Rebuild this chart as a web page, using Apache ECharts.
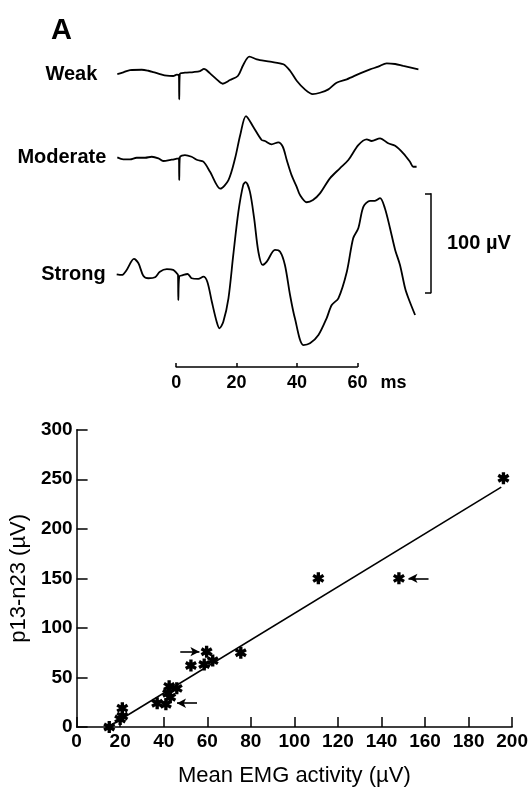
<!DOCTYPE html>
<html>
<head>
<meta charset="utf-8">
<script src="https://cdn.jsdelivr.net/npm/echarts@6/dist/echarts.min.js"></script>
<style>
html,body{margin:0;padding:0;background:#fff}
#chart{width:531px;height:788px}
</style>
</head>
<body>
<div id="chart"></div>
<script>
// ---- Panel A: averaged evoked potentials, [time (ms), deflection (µV)] ----
const weakTrace = [[-19.5,0],[-17.5,1.7],[-15.3,4.0],[-11.4,4.3],[-9.2,3.3],[-7.6,2.0],[-5.4,0],[-3.1,-1.7],[-1.0,-2.0],[0.2,-0.7],[0.9,-1],[1.0,-25.6],[1.2,0],[2.9,1.3],[5.7,2.0],[7.9,3.0],[9.2,5.1],[11.2,0.7],[13.4,-5.4],[15.4,-9.8],[17.8,-6.1],[20.4,-2.0],[22.2,9.1],[24.2,17.5],[26.7,14.8],[27.7,14.1],[31.1,12.4],[35.5,9.8],[37.7,3.3],[39.9,-6.8],[42.6,-15.5],[45.2,-20.2],[47.6,-18.9],[50.4,-15.5],[53.1,-8.8],[56.5,-5.4],[60.9,0.7],[64.2,4.7],[66.9,7.4],[69.7,10.8],[72.5,10.1],[75.2,8.1],[80.2,4.7]];
const moderateTrace = [[-19.5,1.0],[-17.5,-1.0],[-15.3,-1.0],[-13.1,0.6],[-10.3,0.6],[-8.1,1.6],[-5.9,0],[-4.3,-2.7],[-1.5,-1.4],[0.2,-0.4],[0.9,0],[1.0,-21.9],[1.2,1.0],[2.9,3.3],[5.1,1.6],[7.0,-1.7],[9.0,-3.4],[11.2,-13.5],[14.6,-30.6],[17.3,-21.9],[19.5,0],[21.2,23.5],[23.1,42.7],[25.5,31.9],[28.3,18.5],[29.4,17.5],[31.6,14.1],[33.8,16.2],[35.3,11.7],[36.6,-1.7],[38.2,-16.9],[39.9,-28.7],[41.0,-37.1],[43.2,-44.3],[45.3,-42.1],[47.6,-35.4],[50.9,-20.2],[54.2,-10.1],[57.0,-1.7],[60.3,13.4],[63.1,19.2],[64.7,17.5],[67.5,20.2],[70.2,15.2],[72.5,12.7],[75.2,5.1],[77.4,-3.4],[78.5,-8.5],[79.6,-8.5]];
const strongTrace = [[-19.7,0.7],[-18.0,0],[-16.4,5.1],[-14.0,16.2],[-12.5,11.8],[-10.9,-0.7],[-9.2,-3.3],[-7.0,-2.3],[-5.4,3.3],[-3.1,5.8],[-1.0,5.1],[0.2,1.7],[0.6,0],[0.7,-25.3],[1.0,-1.7],[2.4,0],[3.8,1.0],[5.1,-3.3],[7.3,-4.0],[9.0,-1.7],[10.3,-6.8],[11.8,-27.0],[13.4,-47.2],[14.3,-53.8],[15.6,-47.2],[17.3,-23.5],[18.9,20.2],[20.6,63.9],[22.2,90.9],[23.0,93.6],[24.4,84.1],[25.8,57.3],[27.2,23.5],[28.6,10.1],[30.0,13.4],[32.7,25.3],[34.4,23.5],[36.0,10.1],[37.7,-20.2],[39.3,-43.7],[42.1,-70.7],[44.3,-69.0],[47.1,-60.6],[49.8,-43.7],[51.5,-30.3],[53.7,-23.5],[56.5,3.3],[58.6,37.1],[60.3,47.2],[62.0,69.0],[64.2,74.7],[65.8,74.7],[67.5,77.5],[69.1,67.4],[70.8,47.2],[72.5,25.3],[74.1,10.1],[75.8,-13.4],[76.9,-23.5],[79.1,-40.4]];
const traceNames = ['Weak', 'Moderate', 'Strong'];
const timeTicks = [0, 20, 40, 60];
const timeUnit = 'ms';
const ampBar = [0, 100];
const ampLabel = '100 µV';

// ---- Panel B: p13-n23 amplitude vs mean EMG activity ----
const emgActivity = [15, 21, 21, 20, 37, 41, 42.5, 42, 43, 46, 52.5, 59.7, 58.6, 62.5, 75.4, 111, 148, 196];
const p13n23 = [0, 19, 11, 8, 24, 23, 41, 34, 30, 39, 62, 76, 63, 67, 75, 150, 150, 251];
const fitLine = [[14.5, 0], [195, 242]];
// marked points: [tail, head] of each arrow
const arrows = [
  [[47.6, 76], [56.4, 76]],
  [[55.3, 24], [46.1, 24]],
  [[161.6, 150], [152.4, 150]]
];
const xTitle = 'Mean EMG activity (µV)';
const yTitle = 'p13-n23 (µV)';

// vertical stacking of the three traces (µV above the panel floor)
const traceOffsets = [298.7, 213.6, 95.9];
const labelGaps = [20, 11, 11];

const FONT = '"Liberation Sans", Arial, Helvetica, sans-serif';
const ASTERISK = 'path://M1.4 5 L-1.4 5 L-1.4 -5 L1.4 -5 Z M5.03 1.29 L3.63 3.71 L-5.03 -1.29 L-3.63 -3.71 Z M-3.63 3.71 L-5.03 1.29 L3.63 -3.71 L5.03 -1.29 Z';

const traces = [weakTrace, moderateTrace, strongTrace];
const traceSeries = traces.map((tr, i) => ({
  type: 'line',
  xAxisIndex: 0, yAxisIndex: 0,
  showSymbol: false,
  symbol: 'none',
  smooth: 0.3,
  silent: true,
  lineStyle: { color: '#000', width: 1.8 },
  data: tr.map(p => [p[0], p[1] + traceOffsets[i]])
}));

// name of each trace, written just left of its first sample
const nameSeries = traces.map((tr, i) => ({
  type: 'scatter',
  xAxisIndex: 0, yAxisIndex: 0,
  symbolSize: 0, silent: true,
  itemStyle: { color: '#000' },
  label: {
    show: true, position: 'left', distance: labelGaps[i],
    formatter: traceNames[i],
    color: '#000', opacity: 1, fontFamily: FONT, fontWeight: 'bold', fontSize: 20
  },
  data: [[tr[0][0], tr[0][1] + traceOffsets[i]]]
}));

const chart = echarts.init(document.getElementById('chart'), null, { renderer: 'canvas' });

const option = {
  animation: false,
  backgroundColor: '#fff',
  title: {
    text: 'A', left: 46, top: 11,
    textStyle: { fontFamily: FONT, fontWeight: 'bold', fontSize: 29, color: '#000' }
  },
  grid: [
    { left: 115.8, width: 308.04, top: 43, height: 327 },   // traces
    { left: 431, width: 1, top: 193.7, height: 99 },         // amplitude bar
    { left: 176.2, width: 181.2, top: 366, height: 1 },      // time bar
    { left: 74, right: 16, top: 429.7, bottom: 55.7 }        // scatter
  ],
  xAxis: [
    { gridIndex: 0, type: 'value', min: -20, max: 82, show: false },
    { gridIndex: 1, type: 'value', min: 0, max: 1, show: false },
    {
      gridIndex: 2, type: 'value', min: timeTicks[0], max: timeTicks[timeTicks.length - 1],
      interval: 20, position: 'bottom',
      axisLine: { show: true, lineStyle: { color: '#000', width: 1.5 } },
      axisTick: { show: true, inside: true, length: 4, lineStyle: { color: '#000', width: 1.5 } },
      splitLine: { show: false },
      axisLabel: {
        margin: 7, color: '#000', fontFamily: FONT, fontWeight: 'bold', fontSize: 18,
        formatter: v => v === timeTicks[timeTicks.length - 1]
          ? '{h|' + timeUnit + '}{n|' + v + '}{u|' + timeUnit + '}'
          : String(v),
        rich: {
          n: { fontFamily: FONT, fontWeight: 'bold', fontSize: 18, color: '#000' },
          u: { fontFamily: FONT, fontWeight: 'bold', fontSize: 18, color: '#000', padding: [0, 0, 0, 13] },
          h: { fontFamily: FONT, fontWeight: 'bold', fontSize: 18, color: 'rgba(0,0,0,0)', padding: [0, 13, 0, 0] }
        }
      }
    },
    {
      gridIndex: 3, type: 'value', min: 0, max: 200, interval: 20,
      name: xTitle, nameLocation: 'middle', nameGap: 38,
      nameTextStyle: { fontFamily: FONT, fontSize: 22, color: '#000' },
      axisLine: { onZero: false, lineStyle: { color: '#000', width: 1.5 } },
      axisTick: { inside: true, length: 10, lineStyle: { color: '#000', width: 1.5 } },
      splitLine: { show: false },
      axisLabel: { margin: 5, color: '#000', fontFamily: FONT, fontWeight: 'bold', fontSize: 19 }
    }
  ],
  yAxis: [
    { gridIndex: 0, type: 'value', min: 0, max: 330, show: false },
    {
      gridIndex: 1, type: 'value', min: ampBar[0], max: ampBar[1], interval: 100, position: 'right',
      name: ampLabel, nameLocation: 'middle', nameRotate: 0, nameGap: 15,
      nameTextStyle: { fontFamily: FONT, fontWeight: 'bold', fontSize: 20, color: '#000', align: 'left' },
      axisLine: { show: true, lineStyle: { color: '#000', width: 1.5 } },
      axisTick: { show: true, inside: true, length: 6, lineStyle: { color: '#000', width: 1.5 } },
      axisLabel: { show: false },
      splitLine: { show: false }
    },
    { gridIndex: 2, type: 'value', min: 0, max: 1, show: false },
    {
      gridIndex: 3, type: 'value', min: 0, max: 300, interval: 50,
      name: yTitle, nameLocation: 'middle', nameRotate: 90, nameGap: 36,
      nameTextStyle: { fontFamily: FONT, fontSize: 22, color: '#000' },
      axisLine: { show: true, onZero: false, lineStyle: { color: '#000', width: 1.5 } },
      axisTick: { show: true, inside: true, length: 11, lineStyle: { color: '#000', width: 1.5 } },
      splitLine: { show: false },
      axisLabel: { margin: 4, color: '#000', fontFamily: FONT, fontWeight: 'bold', fontSize: 19 }
    }
  ],
  series: [
    ...traceSeries,
    ...nameSeries,
    {
      type: 'line', xAxisIndex: 3, yAxisIndex: 3,
      symbol: 'none', silent: true,
      lineStyle: { color: '#000', width: 1.6 },
      data: fitLine
    },
    {
      type: 'scatter', xAxisIndex: 3, yAxisIndex: 3,
      symbol: ASTERISK, symbolSize: 12, silent: true,
      itemStyle: { color: '#000', opacity: 1 },
      data: emgActivity.map((x, i) => [x, p13n23[i]]),
      markLine: {
        silent: true, animation: false,
        symbol: ['none', 'arrow'], symbolSize: [7, 9],
        label: { show: false },
        lineStyle: { color: '#000', width: 1.6, type: 'solid' },
        data: arrows.map(a => [{ coord: a[0] }, { coord: a[1] }])
      }
    }
  ]
};

chart.setOption(option);
</script>
</body>
</html>
